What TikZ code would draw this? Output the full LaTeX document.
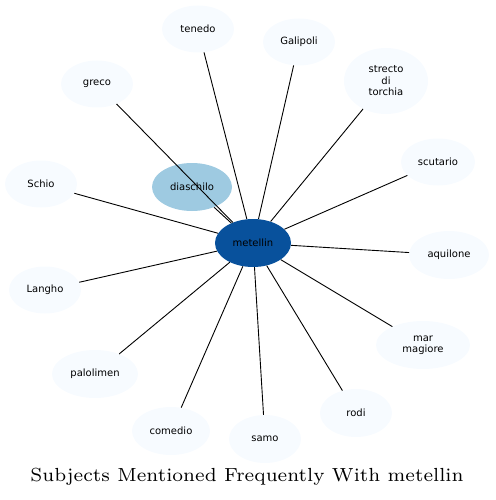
\documentclass[tikz,border=0pt]{standalone}
\usepackage{fontspec}
\newfontfamily\labelfont{DejaVu Sans}
\usetikzlibrary{shapes.geometric}
\definecolor{hubblue}{HTML}{08519C}
\definecolor{nearblue}{HTML}{9ECAE1}
\definecolor{paleblue}{HTML}{F7FBFF}

\begin{document}
\begin{tikzpicture}[x=1pt,y=-1pt,
  subj/.style={ellipse,fill=paleblue,inner sep=0pt,minimum width=72pt,minimum height=47pt,
    align=center,font=\labelfont\fontsize{10}{11.5}\selectfont},
  link/.style={draw=black,line width=0.9pt}]
\useasboundingbox (0,0) rectangle (495,500);
\node[subj,fill=hubblue,minimum width=76pt,minimum height=48pt] (metellin) at (253,243) {metellin};
\node[subj,fill=nearblue,minimum width=80pt,minimum height=48pt] (diaschilo) at (192,187) {diaschilo};
\node[subj] (tenedo) at (198,29) {tenedo};
\node[subj] (galipoli) at (299,42) {Galipoli};
\node[subj,minimum width=84pt,minimum height=66pt] (strecto) at (386,81) {strecto\\di\\torchia};
\node[subj] (greco) at (97,84) {greco};
\node[subj,minimum width=74pt] (scutario) at (438,162) {scutario};
\node[subj] (schio) at (41,184) {Schio};
\node[subj,minimum width=80pt,minimum height=48pt] (aquilone) at (449,255) {aquilone};
\node[subj] (langho) at (45,290) {Langho};
\node[subj,minimum width=94pt,minimum height=48pt] (marmagiore) at (423,345) {mar\\magiore};
\node[subj,minimum width=86pt,minimum height=48pt] (palolimen) at (95,374) {palolimen};
\node[subj,minimum width=78pt,minimum height=48pt] (comedio) at (171,431) {comedio};
\node[subj,minimum height=48pt] (rodi) at (356,413) {rodi};
\node[subj,minimum height=48pt] (samo) at (265,439) {samo};
\foreach \s in {diaschilo,tenedo,galipoli,strecto,greco,scutario,schio,aquilone,langho,marmagiore,palolimen,comedio,rodi,samo}
  \draw[link] (metellin) -- (\s);
\node (title) at (247,477) {\resizebox{433pt}{!}{\fontsize{7}{8}\selectfont Subjects Mentioned Frequently With metellin}};
\end{tikzpicture}
\end{document}
